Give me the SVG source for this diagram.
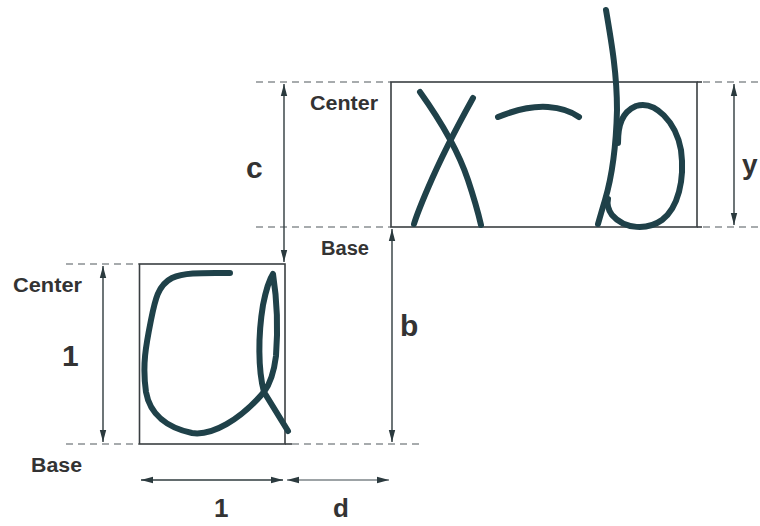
<svg xmlns="http://www.w3.org/2000/svg" width="760" height="526" viewBox="0 0 760 526">
<defs>
<marker id="ah" viewBox="0 0 12 8" refX="12" refY="4" markerWidth="12" markerHeight="8" markerUnits="userSpaceOnUse" orient="auto-start-reverse">
<path d="M0,0.8 L12,4 L0,7.2 Z" fill="#2b3a3e"/>
</marker>
<style>
.box{fill:none;stroke:#3a3f42;stroke-width:1.6}
.dash{fill:none;stroke:#8a9092;stroke-width:1.6;stroke-dasharray:7 5}
.dim{fill:none;stroke:#2f3b3e;stroke-width:1.4;marker-start:url(#ah);marker-end:url(#ah)}
.ink{fill:none;stroke:#1f4149;stroke-width:6;stroke-linecap:round;stroke-linejoin:round}
.lbl{font-family:"Liberation Sans",Arial,sans-serif;font-weight:bold;font-size:20px;fill:#333}
.var{font-family:"Liberation Sans",Arial,sans-serif;font-weight:bold;font-size:30px;fill:#333}
</style>
</defs>
<rect width="760" height="526" fill="#fff"/>

<g id="guides">
<line class="dash" x1="66" y1="264" x2="139" y2="264"/>
<line class="dash" x1="66" y1="444" x2="139" y2="444"/>
<line class="dash" x1="292" y1="444" x2="422" y2="444"/>
<line class="dash" x1="256" y1="82" x2="391" y2="82"/>
<line class="dash" x1="256" y1="227" x2="391" y2="227"/>
<line class="dash" x1="703" y1="82" x2="760" y2="82"/>
<line class="dash" x1="703" y1="227" x2="760" y2="227"/>
</g>

<g id="box-a">
<rect class="box" x="139.5" y="264" width="145.5" height="180"/>
<line class="box" x1="285" y1="444" x2="292" y2="444"/>
<path class="ink" d="M230,273 C205,273 185,272 172,278 C158,285 155,300 151,320 C146,345 142,365 146,392 C150,415 168,428 192,433 C212,436 240,420 264,392"/>
<path class="ink" d="M264,392 C258,370 258,335 263,305 C266,290 269,280 273,274 C277,300 278,330 276,356 C274,372 270,384 264,392 C272,405 280,418 288,431"/>
</g>

<g id="box-xb">
<rect class="box" x="391" y="82" width="306" height="145"/>
<line class="box" x1="697" y1="82" x2="702" y2="82"/>
<line class="box" x1="697" y1="227" x2="702" y2="227"/>
<path class="ink" d="M420,92 C440,120 458,150 468,180 C474,198 478,212 481,225"/>
<path class="ink" d="M473,98 C458,125 440,160 428,188 C422,202 417,214 414,224"/>
<path class="ink" d="M498,117 C515,110 533,106 548,107 C562,108 572,112 579,117"/>
<path class="ink" d="M606,10 C612,45 617,75 617,110 C616,150 611,180 605,200 C602,210 600,217 598,224"/>
<path class="ink" d="M618,143 C618,125 622,112 636,106 C655,100 676,122 681,150 C685,180 678,208 662,220 C648,230 625,230 612,215 C607,208 607,203 608,199"/>
</g>

<g id="connectors">
<line class="dim" x1="103" y1="266" x2="103" y2="442"/>
<line class="dim" x1="284" y1="84" x2="284" y2="262"/>
<line class="dim" x1="392" y1="229" x2="392" y2="442"/>
<line class="dim" x1="734" y1="84" x2="734" y2="225"/>
<line class="dim" x1="141" y1="480" x2="283" y2="480"/>
<line class="dim" x1="287" y1="480" x2="389" y2="480" style="stroke:#7d8588"/>
</g>

<g id="labels">
<text class="lbl" x="13" y="292" textLength="69" lengthAdjust="spacingAndGlyphs">Center</text>
<text class="lbl" x="31" y="472" textLength="51" lengthAdjust="spacingAndGlyphs">Base</text>
<text class="lbl" x="310" y="110" textLength="68" lengthAdjust="spacingAndGlyphs">Center</text>
<text class="lbl" x="321" y="255" textLength="48" lengthAdjust="spacingAndGlyphs">Base</text>
<text class="var" x="62" y="366">1</text>
<text class="var" x="246" y="178">c</text>
<text class="var" x="400" y="336">b</text>
<text class="var" x="742" y="174" style="font-size:28px">y</text>
<text class="var" x="214" y="517" style="font-size:26px">1</text>
<text class="var" x="333" y="517" style="font-size:26px">d</text>
</g>
</svg>
